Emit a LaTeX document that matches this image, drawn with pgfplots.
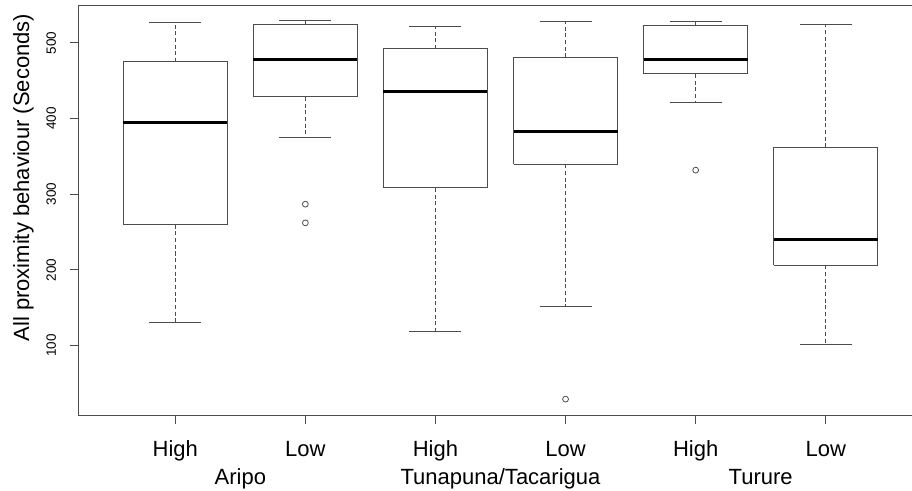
\documentclass[border=0pt]{standalone}
\usepackage{pgfplots}
\pgfplotsset{compat=1.18}
\usepackage{fontspec}
\setmainfont{Liberation Sans}
\definecolor{linegray}{gray}{0.3}
\begin{document}
\begin{tikzpicture}
\path[use as bounding box, clip] (-59.25pt,-56.25pt) rectangle (624.75pt,311.25pt);
\begin{axis}[
  at={(0pt,0pt)}, anchor=south west,
  scale only axis, width=632.25pt, height=307.5pt,
  xmin=0.26, xmax=6.74, ymin=8, ymax=550,
  unbounded coords=jump,
  axis line style={linegray, line width=0.75pt},
  tick style={linegray, line width=0.75pt},
  tick align=outside, major tick length=6.75pt,
  tick pos=left,
  xtick={1,2,3,4,5,6},
  xticklabels={High,Low,High,Low,High,Low},
  ytick={100,200,300,400,500},
  /pgf/number format/assume math mode=true,
  yticklabel style={rotate=90, anchor=base, inner sep=0pt, font=\fontsize{10.1}{12}\selectfont},
  yticklabel shift=10.5pt,
  xticklabel style={anchor=base, inner sep=0pt, font=\fontsize{16.5}{19}\selectfont},
  xticklabel shift=24pt,
  extra x ticks={1.5,3.5,5.5},
  extra x tick labels={Aripo,Tunapuna/Tacarigua,Turure},
  extra x tick style={major tick length=0pt, xticklabel shift=51.75pt},
  ylabel={All proximity behaviour (Seconds)},
  every axis y label/.style={at={(rel axis cs:-0.0593,0.579)}, rotate=90, anchor=base, inner sep=0pt, font=\fontsize{16.5}{19}\selectfont},
]
% dashed whiskers (box edge to whisker end)
\addplot[linegray, line width=0.75pt, dash pattern=on 3pt off 2pt] coordinates {
 (1,474.8) (1,527.3) (1,nan) (1,259.4) (1,129.9) (1,nan)
 (2,523.7) (2,529.9) (2,nan) (2,428.5) (2,374.4) (2,nan)
 (3,492.0) (3,521.0) (3,nan) (3,308.3) (3,118.9) (3,nan)
 (4,481.0) (4,528.6) (4,nan) (4,339.2) (4,151.0) (4,nan)
 (5,522.4) (5,528.6) (5,nan) (5,459.0) (5,421.1) (5,nan)
 (6,361.7) (6,524.6) (6,nan) (6,205.7) (6,101.3)
};
% whisker caps
\addplot[linegray, line width=0.75pt] coordinates {
 (0.8,527.3) (1.2,527.3) (1,nan) (0.8,129.9) (1.2,129.9) (1,nan)
 (1.8,529.9) (2.2,529.9) (2,nan) (1.8,374.4) (2.2,374.4) (2,nan)
 (2.8,521.0) (3.2,521.0) (3,nan) (2.8,118.9) (3.2,118.9) (3,nan)
 (3.8,528.6) (4.2,528.6) (4,nan) (3.8,151.0) (4.2,151.0) (4,nan)
 (4.8,528.6) (5.2,528.6) (5,nan) (4.8,421.1) (5.2,421.1) (5,nan)
 (5.8,524.6) (6.2,524.6) (6,nan) (5.8,101.3) (6.2,101.3)
};
% boxes (lower quartile to upper quartile)
\addplot[draw=linegray, fill=white, line width=0.75pt] coordinates {(0.6,259.4) (1.4,259.4) (1.4,474.8) (0.6,474.8) (0.6,259.4)};
\addplot[draw=linegray, fill=white, line width=0.75pt] coordinates {(1.6,428.5) (2.4,428.5) (2.4,523.7) (1.6,523.7) (1.6,428.5)};
\addplot[draw=linegray, fill=white, line width=0.75pt] coordinates {(2.6,308.3) (3.4,308.3) (3.4,492.0) (2.6,492.0) (2.6,308.3)};
\addplot[draw=linegray, fill=white, line width=0.75pt] coordinates {(3.6,339.2) (4.4,339.2) (4.4,481.0) (3.6,481.0) (3.6,339.2)};
\addplot[draw=linegray, fill=white, line width=0.75pt] coordinates {(4.6,459.0) (5.4,459.0) (5.4,522.4) (4.6,522.4) (4.6,459.0)};
\addplot[draw=linegray, fill=white, line width=0.75pt] coordinates {(5.6,205.7) (6.4,205.7) (6.4,361.7) (5.6,361.7) (5.6,205.7)};
% medians
\addplot[black, line width=2.25pt] coordinates {
 (0.6,395.1) (1.4,395.1) (1,nan)
 (1.6,478.4) (2.4,478.4) (2,nan)
 (2.6,435.2) (3.4,435.2) (3,nan)
 (3.6,382.8) (4.4,382.8) (4,nan)
 (4.6,478.4) (5.4,478.4) (5,nan)
 (5.6,239.6) (6.4,239.6)
};
% outliers
\addplot[only marks, mark=o, mark size=2.2pt, mark options={linegray, line width=0.6pt}] coordinates {
 (2,286.7) (2,262.0) (4,29.0) (5,331.7)
};
\end{axis}
\end{tikzpicture}
\end{document}
